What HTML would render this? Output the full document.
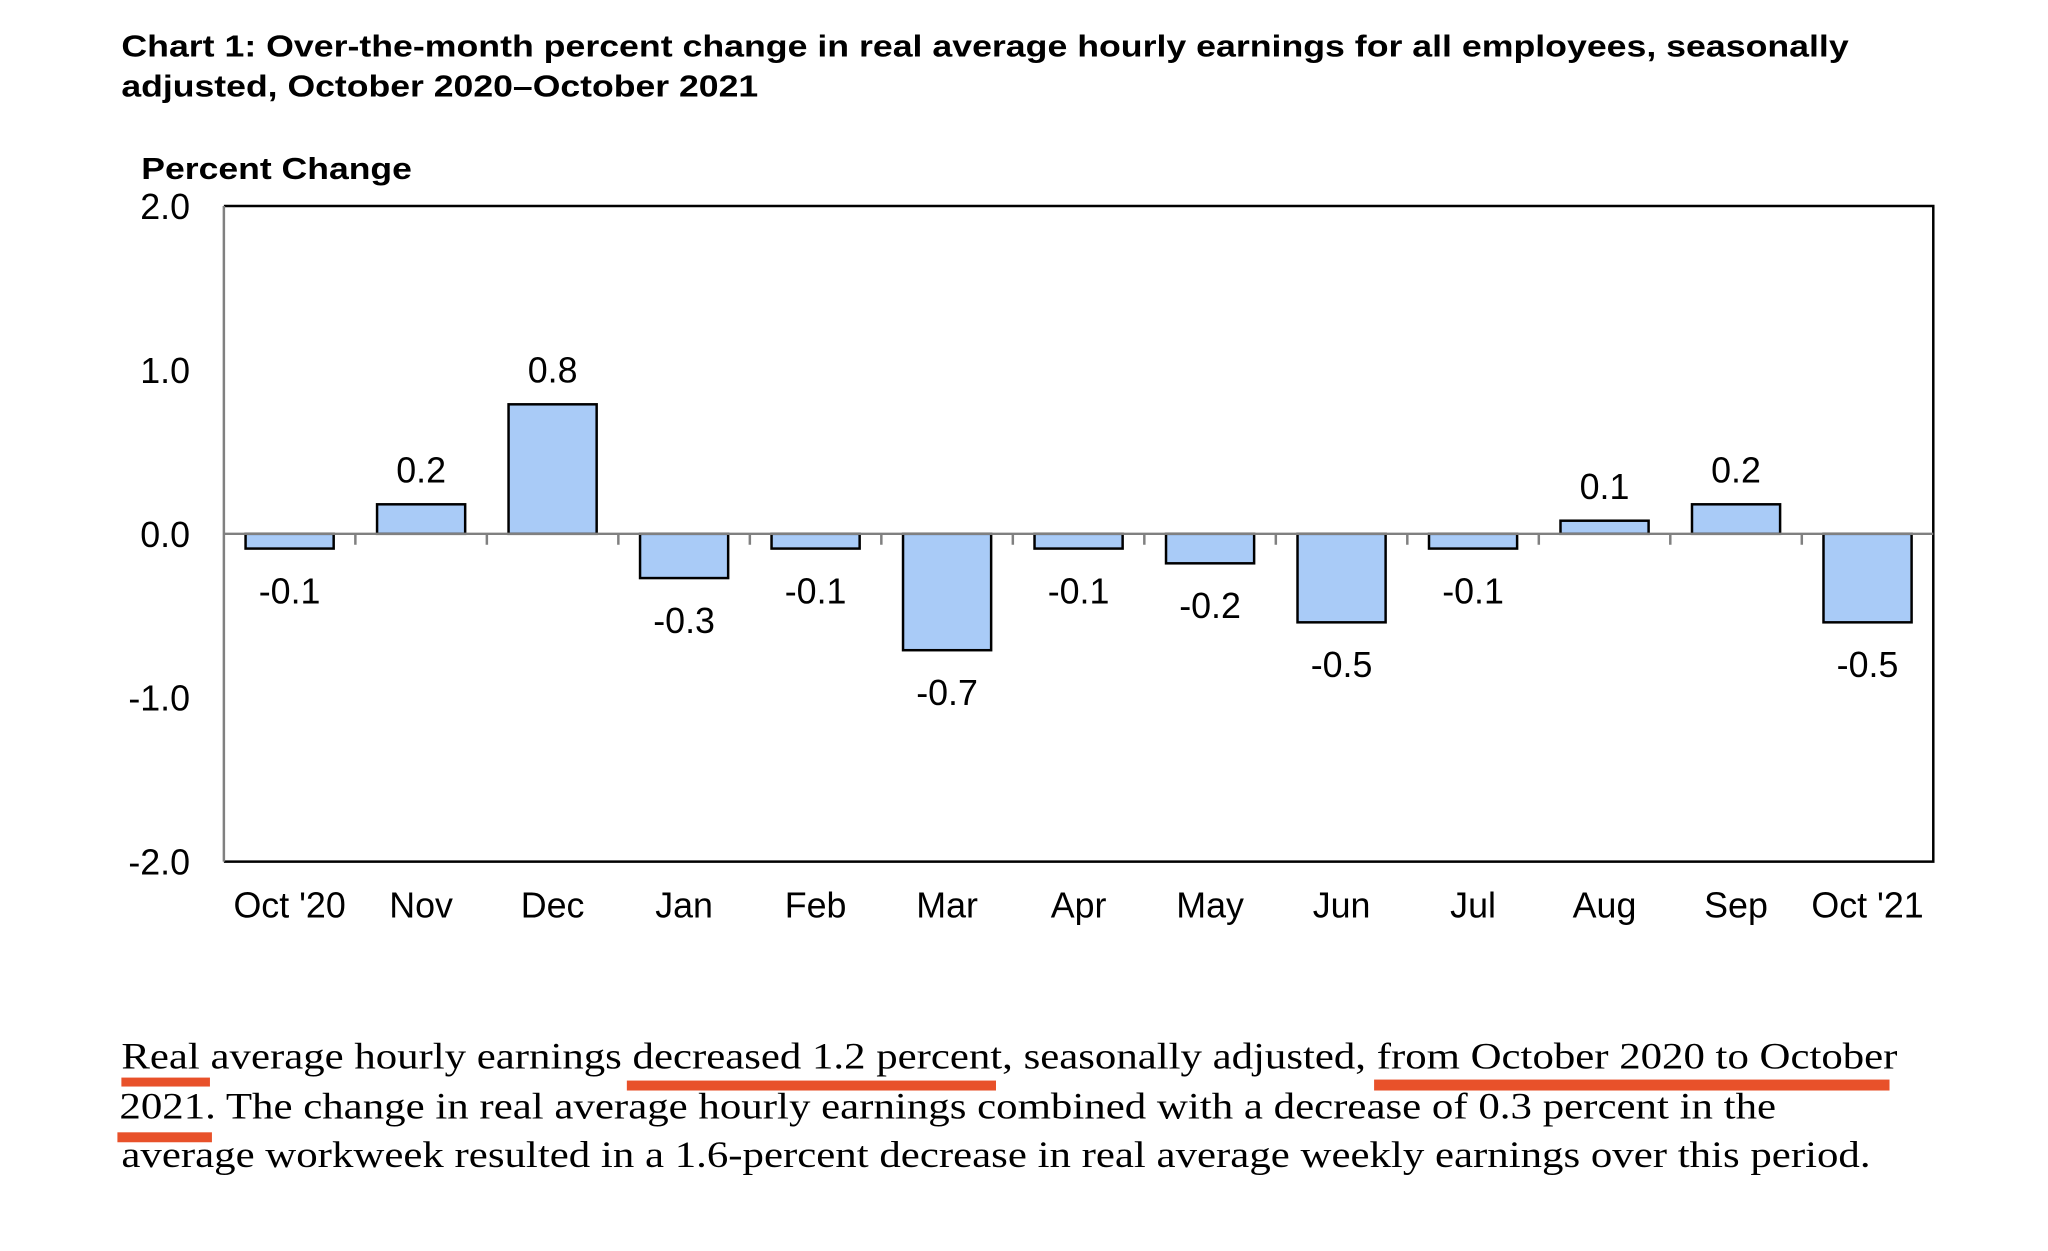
<!DOCTYPE html>
<html><head><meta charset="utf-8"><style>
html,body{margin:0;padding:0;background:#fff;}
svg{display:block;}
text{font-family:"Liberation Sans",Arial,sans-serif;}
</style></head><body>
<svg id="chart" width="2048" height="1251" viewBox="0 0 2048 1251" xmlns="http://www.w3.org/2000/svg">
<g transform="scale(0.995)">
<text x="122" y="57" font-size="31" font-weight="bold" textLength="1736" lengthAdjust="spacingAndGlyphs">Chart 1: Over-the-month percent change in real average hourly earnings for all employees, seasonally</text>
<text x="122" y="97" font-size="31" font-weight="bold" textLength="640" lengthAdjust="spacingAndGlyphs">adjusted, October 2020–October 2021</text>
<text x="142" y="180" font-size="31" font-weight="bold" textLength="272" lengthAdjust="spacingAndGlyphs">Percent Change</text>
<g id="plot"></g>
<g font-size="37">
<text x="122" y="1074" style="font-family:'Liberation Serif',serif" textLength="1785" lengthAdjust="spacingAndGlyphs">Real average hourly earnings decreased 1.2 percent, seasonally adjusted, from October 2020 to October</text>
<text x="120" y="1124" style="font-family:'Liberation Serif',serif" textLength="1665" lengthAdjust="spacingAndGlyphs">2021. The change in real average hourly earnings combined with a decrease of 0.3 percent in the</text>
<text x="122" y="1173" style="font-family:'Liberation Serif',serif" textLength="1758" lengthAdjust="spacingAndGlyphs">average workweek resulted in a 1.6-percent decrease in real average weekly earnings over this period.</text>
<rect x="122" y="1083" width="89" height="9" fill="#e8512a"/>
<rect x="630" y="1086" width="371" height="10" fill="#e8512a"/>
<rect x="1381" y="1085" width="518" height="11" fill="#e8512a"/>
<rect x="118" y="1138" width="95" height="10" fill="#e8512a"/>
</g>
</g>
</svg>
<script>
const categories = ["Oct '20","Nov","Dec","Jan","Feb","Mar","Apr","May","Jun","Jul","Aug","Sep","Oct '21"];
const values = [-0.09,0.18,0.79,-0.27,-0.09,-0.71,-0.09,-0.18,-0.54,-0.09,0.08,0.18,-0.54];
const valueLabels = ["-0.1","0.2","0.8","-0.3","-0.1","-0.7","-0.1","-0.2","-0.5","-0.1","0.1","0.2","-0.5"];
const yTicks = [2,1,0,-1,-2];
const yTickLabels = ["2.0","1.0","0.0","-1.0","-2.0"];

const NS = "http://www.w3.org/2000/svg";
const L = 225, R = 1943, T = 207, B = 866, yMin = -2, yMax = 2;
const band = (R - L) / categories.length;
function y(v){ return T + (yMax - v) / (yMax - yMin) * (B - T); }
function xc(i){ return L + band * (i + 0.5); }
const g = document.getElementById('plot');
function mk(tag, attrs){ const e = document.createElementNS(NS, tag); for (const k in attrs) e.setAttribute(k, attrs[k]); g.appendChild(e); return e; }

let fr = mk('path', {d:`M${L},${T} H${R} V${B} H${L}`, fill:'none', stroke:'#000', 'stroke-width':2.5});


let yl = mk('line', {x1:L, y1:T, x2:L, y2:B, stroke:'#808080', 'stroke-width':2.5});



yTicks.forEach((v, i) => {
  const t = mk('text', {x:191, y:y(v) + 13, 'font-size':36, 'text-anchor':'end'});
  t.textContent = yTickLabels[i];
  
  
});

values.forEach((v, i) => {
  const w = band * 0.67;
  const y0 = y(0), yv = y(v);
  const b = mk('rect', {x:xc(i) - w/2, y:Math.min(y0, yv), width:w, height:Math.abs(yv - y0), fill:'#a9cbf7', stroke:'#000', 'stroke-width':2.5});
  
  
  const lbl = mk('text', {x:xc(i), y: v >= 0 ? yv - 22 : yv + 55, 'font-size':36, 'text-anchor':'middle'});
  lbl.textContent = valueLabels[i];
  
  
  const xl = mk('text', {x:xc(i), y:922, 'font-size':36, 'text-anchor':'middle'});
  xl.textContent = categories[i];
  
  
});

const zl = mk('line', {x1:L, y1:y(0), x2:R, y2:y(0), stroke:'#808080', 'stroke-width':2.5});


for (let i = 1; i < categories.length; i++) {
  const tk = mk('line', {x1:L + band*i, y1:y(0), x2:L + band*i, y2:y(0) + 11, stroke:'#808080', 'stroke-width':2.5});
  
  
}
</script>
</body></html>
